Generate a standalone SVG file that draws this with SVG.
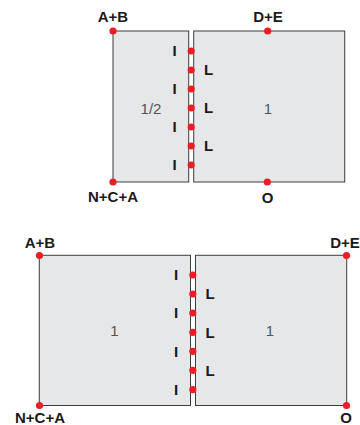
<svg xmlns="http://www.w3.org/2000/svg" width="360" height="425" viewBox="0 0 360 425">
<style>
.panel{fill:#e6e7e8;stroke:#3c3c3c;stroke-width:1}
.dot{fill:#ee1c25}
.lbl{font-family:"Liberation Sans",Arial,sans-serif;font-weight:bold;font-size:15px;fill:#1a1a1a;text-anchor:middle}
.num{font-family:"Liberation Sans",Arial,sans-serif;font-size:15px;fill:#555;text-anchor:middle}
</style>
<rect width="360" height="425" fill="#fff"/>
<g id="top-left-panel">
<rect class="panel" x="113" y="31" width="75.7" height="151"/>
<text class="num" x="151" y="113.5">1/2</text>
</g>
<g id="top-right-panel">
<rect class="panel" x="193.7" y="31" width="151" height="151"/>
<text class="num" x="268" y="113.5">1</text>
</g>
<g id="bottom-left-panel">
<rect class="panel" x="39.3" y="255.3" width="151.2" height="150.2"/>
<text class="num" x="114.5" y="335.5">1</text>
</g>
<g id="bottom-right-panel">
<rect class="panel" x="195.5" y="255.3" width="151.2" height="150.2"/>
<text class="num" x="270" y="335.5">1</text>
</g>
<g id="connectors">
<circle class="dot" cx="113" cy="31" r="3.6"/>
<circle class="dot" cx="267.7" cy="31" r="3.6"/>
<circle class="dot" cx="113" cy="182" r="3.6"/>
<circle class="dot" cx="267.3" cy="182" r="3.6"/>
<circle class="dot" cx="191.2" cy="51" r="3.6"/>
<circle class="dot" cx="191.2" cy="70" r="3.6"/>
<circle class="dot" cx="191.2" cy="89" r="3.6"/>
<circle class="dot" cx="191.2" cy="108" r="3.6"/>
<circle class="dot" cx="191.2" cy="127" r="3.6"/>
<circle class="dot" cx="191.2" cy="146" r="3.6"/>
<circle class="dot" cx="191.2" cy="165" r="3.6"/>
<circle class="dot" cx="39.5" cy="255.5" r="3.6"/>
<circle class="dot" cx="346.5" cy="255.5" r="3.6"/>
<circle class="dot" cx="39.5" cy="405.5" r="3.6"/>
<circle class="dot" cx="346.5" cy="405.5" r="3.6"/>
<circle class="dot" cx="192.8" cy="275" r="3.6"/>
<circle class="dot" cx="192.8" cy="294" r="3.6"/>
<circle class="dot" cx="192.8" cy="313" r="3.6"/>
<circle class="dot" cx="192.8" cy="332.3" r="3.6"/>
<circle class="dot" cx="192.8" cy="351.3" r="3.6"/>
<circle class="dot" cx="192.8" cy="370.3" r="3.6"/>
<circle class="dot" cx="192.8" cy="389.7" r="3.6"/>
</g>
<g id="labels">
<text class="lbl" x="113" y="22">A+B</text>
<text class="lbl" x="268" y="22">D+E</text>
<text class="lbl" x="113" y="202">N+C+A</text>
<text class="lbl" x="267.5" y="202.5">O</text>
<text class="lbl" x="174.5" y="56.3">I</text>
<text class="lbl" x="174.5" y="94.3">I</text>
<text class="lbl" x="174.5" y="132.3">I</text>
<text class="lbl" x="174.5" y="170.3">I</text>
<text class="lbl" x="208.5" y="75.3">L</text>
<text class="lbl" x="208.5" y="113.3">L</text>
<text class="lbl" x="208.5" y="151.3">L</text>
<text class="lbl" x="40" y="247.5">A+B</text>
<text class="lbl" x="345" y="247.5">D+E</text>
<text class="lbl" x="40" y="423">N+C+A</text>
<text class="lbl" x="346" y="423">O</text>
<text class="lbl" x="176" y="280.3">I</text>
<text class="lbl" x="176" y="318.3">I</text>
<text class="lbl" x="176" y="356.6">I</text>
<text class="lbl" x="176" y="395">I</text>
<text class="lbl" x="210" y="299.3">L</text>
<text class="lbl" x="210" y="337.6">L</text>
<text class="lbl" x="210" y="375.6">L</text>
</g>
</svg>
